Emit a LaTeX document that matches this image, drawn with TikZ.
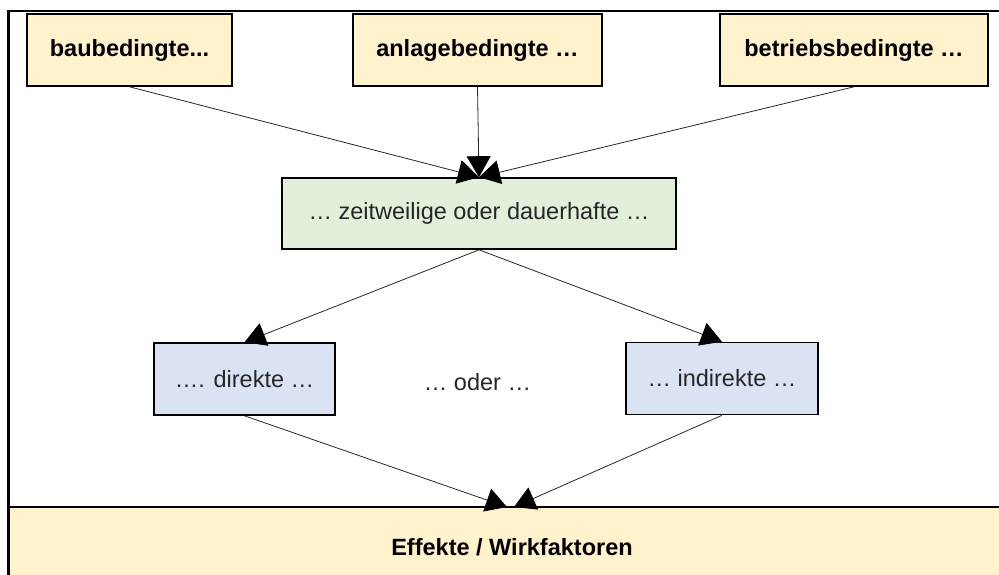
\documentclass[tikz,border=0pt]{standalone}
\usepackage{fontspec}
\setmainfont{Liberation Sans}
\usetikzlibrary{arrows.meta}
\definecolor{ockerfill}{HTML}{FFF2CC}
\definecolor{gruenfill}{HTML}{E2EFDA}
\definecolor{blaufill}{HTML}{DAE3F3}
\tikzset{
  box/.style={draw=black, line width=1.6pt, inner sep=0pt, align=center,
    font=\fontsize{23.5}{28}\selectfont},
  topbox/.style={box, fill=ockerfill, minimum height=72pt,
    font=\fontsize{23.5}{28}\selectfont\bfseries},
  midbox/.style={box, fill=gruenfill, minimum height=71pt, text=black!85},
  lowbox/.style={box, fill=blaufill, minimum height=72pt, text=black!85},
  link/.style={draw=black!85, line width=0.8pt,
    -{Triangle[length=21pt,width=24pt,color=black,fill=black]}},
}
\begin{document}
\begin{tikzpicture}[x=1pt,y=-1pt]
  \useasboundingbox (0,0) rectangle (999,574);
  \clip (0,0) rectangle (999,574);
  % outer frame (only its top and left edges lie on the page)
  \draw[line width=2.8pt] (8.5,11) rectangle (1030,600);

  % first row
  \node[topbox, minimum width=205pt] (bau) at (129.5,50) {baubedingte...};
  \node[topbox, minimum width=249pt] (anl) at (477.5,50) {anlagebedingte …};
  \node[topbox, minimum width=268pt] (bet) at (854,50) {betriebsbedingte …};

  % second row
  \node[midbox, minimum width=394pt] (zeit) at (479,213.5) {… zeitweilige oder dauerhafte …};

  % third row
  \node[lowbox, minimum width=181pt] (dir) at (244.5,379) {…. direkte …};
  \node[font=\fontsize{23.5}{28}\selectfont, text=black!85] (oder) at (477.5,382) {… oder …};
  \node[lowbox, minimum width=192pt] (ind) at (722,378.5) {… indirekte …};

  % result bar
  \node[box, fill=ockerfill, minimum width=1006pt, minimum height=80pt,
    font=\fontsize{23.5}{28}\selectfont\bfseries] (eff) at (512,547) {Effekte / Wirkfaktoren};
  \coordinate (effL) at (507,507);
  \coordinate (effR) at (514,507);

  % connectors
  \draw[link] (bau.south) -- (zeit.north);
  \draw[link] (bet.south) -- (zeit.north);
  \draw[link] (anl.south) -- (zeit.north);
  \draw[link] (zeit.south) -- (dir.north);
  \draw[link] (zeit.south) -- (ind.north);
  \draw[link] (dir.south) -- (effL);
  \draw[link] (ind.south) -- (effR);
\end{tikzpicture}
\end{document}
